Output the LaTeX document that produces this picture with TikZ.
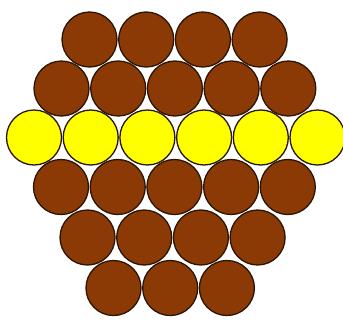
\documentclass[tikz,border=0pt]{standalone}
\usepackage{tikz}
\usepackage{xcolor}
\usetikzlibrary{positioning}
\definecolor{ballBrown} {HTML}{8B3A05}
\definecolor{ballYellow}{HTML}{FFFF00}
\definecolor{ballEdge}  {HTML}{2A1505}

\tikzset{
  ball/.style={circle, draw=ballEdge, line width=1.3pt,
               minimum size=55pt, inner sep=0pt},
}

\begin{document}
\begin{tikzpicture}[x=1pt, y=-1pt]
  \useasboundingbox (0,0) rectangle (343,322);
  % rows: index / count / first x / y / fill
  \foreach \r/\n/\xo/\yo/\col in {1/4/89.5/39.5/ballBrown,
                                  2/5/61.5/88.5/ballBrown,
                                  3/6/34/137.5/ballYellow,
                                  4/5/61/187/ballBrown,
                                  5/4/87.5/237.5/ballBrown,
                                  6/3/113.5/288/ballBrown}{
    \foreach \c in {1,...,\n}{
      \node[ball, fill=\col] (r\r c\c) at ({\xo+56.7*(\c-1)}, \yo) {};
    }
  }
\end{tikzpicture}
\end{document}
